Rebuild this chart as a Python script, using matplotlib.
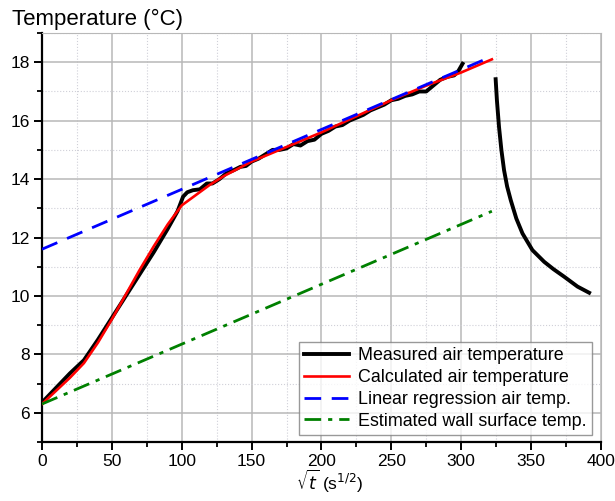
import numpy as np
import matplotlib.pyplot as plt

plt.rcParams['font.family'] = ['Liberation Sans', 'DejaVu Sans']

# measured air temperature (heating part and cooling part)
meas_x = [0, 10, 20, 30, 40, 50, 60, 70, 80, 90, 97, 101, 104, 108, 113, 118, 122, 127,
          132, 137, 142, 146, 150, 155, 160, 165, 170, 175, 180, 185, 190, 195, 200, 205,
          210, 215, 220, 225, 230, 235, 240, 245, 250, 255, 260, 265, 270, 275, 280,
          285, 290, 295, 298, 301]
meas_y = [6.35, 6.85, 7.35, 7.8, 8.5, 9.25, 10.0, 10.75, 11.5, 12.3, 12.9, 13.4, 13.55,
          13.62, 13.65, 13.85, 13.85, 14.0, 14.2, 14.3, 14.42, 14.45, 14.6, 14.7, 14.85,
          15.0, 15.0, 15.05, 15.2, 15.15, 15.3, 15.35, 15.55, 15.65, 15.8, 15.85, 16.0,
          16.1, 16.2, 16.35, 16.45, 16.55, 16.7, 16.75, 16.85, 16.9, 17.0, 17.0, 17.2,
          17.4, 17.5, 17.55, 17.7, 17.95]
cool_x = [324.7, 325.6, 327.1, 328.8, 330.7, 332.9, 335.5, 339.5, 343.9, 351, 359.4,
          366, 373.7, 383.3, 391.6]
cool_y = [17.42, 16.7, 15.79, 15.0, 14.31, 13.75, 13.28, 12.65, 12.14, 11.57, 11.17,
          10.92, 10.66, 10.32, 10.11]

calc_x = [0, 10, 20, 30, 40, 50, 60, 70, 80, 90, 100, 110, 120, 130, 140, 150, 170,
          200, 225, 250, 275, 300, 322]
calc_y = [6.3, 6.75, 7.2, 7.7, 8.4, 9.2, 10.05, 10.9, 11.7, 12.45, 13.1, 13.45, 13.8,
          14.1, 14.35, 14.6, 15.0, 15.6, 16.15, 16.7, 17.2, 17.65, 18.1]

reg_x = [0, 322]
reg_y = [11.6, 18.2]
wall_x = [0, 322]
wall_y = [6.3, 12.9]

fig = plt.figure(figsize=(6.15, 5.01), dpi=100)
ax = fig.add_axes([0.0683, 0.1178, 0.9087, 0.8162])

ax.plot(meas_x, meas_y, color='black', lw=2.8, label='Measured air temperature', zorder=3)
ax.plot(cool_x, cool_y, color='black', lw=2.8, zorder=3)
ax.plot(calc_x, calc_y, color='red', lw=1.9, label='Calculated air temperature', zorder=4)
ax.plot(reg_x, reg_y, color='blue', lw=2.0, ls=(0, (6, 3.8)), label='Linear regression air temp.', zorder=5)
ax.plot(wall_x, wall_y, color='green', lw=2.0, ls=(0, (6, 2.5, 1.5, 2.5)), label='Estimated wall surface temp.', zorder=5)

ax.set_xlim(0, 400)
ax.set_ylim(5, 19)
ax.set_xticks(np.arange(0, 401, 50))
ax.set_xticks(np.arange(0, 401, 25), minor=True)
ax.set_yticks(np.arange(6, 19, 2))
ax.set_yticks(np.arange(5, 20, 1), minor=True)
ax.grid(which='major', color='#b8b8b8', lw=1.1)
ax.grid(which='minor', color='#d0d0d8', lw=0.8, ls=':')
ax.set_axisbelow(True)

for s in ['top', 'right']:
    ax.spines[s].set_color('#b8b8b8')
for s in ['left', 'bottom']:
    ax.spines[s].set_linewidth(1.6)
ax.tick_params(which='major', direction='out', length=6, width=1.4, labelsize=12.5, pad=3)
ax.tick_params(which='minor', direction='out', length=3.5, width=1.3)
ax.tick_params(top=False, right=False, which='both')

fig.text(0.019, 0.962, 'Temperature (°C)', fontsize=16, ha='left', va='center')
ax.set_xlabel(r'$\sqrt{t}$ (s$^{1/2}$)', fontsize=12.5, labelpad=-1, x=0.515)

leg = ax.legend(loc='lower right', fontsize=12.9, frameon=True, fancybox=False,
                edgecolor='#808080', handlelength=2.5, borderpad=0.3,
                labelspacing=0.27, handletextpad=0.5, borderaxespad=0,
                bbox_to_anchor=(0.984, 0.017))
leg.get_frame().set_linewidth(1.0)

fig.savefig('out.png', dpi=100)
